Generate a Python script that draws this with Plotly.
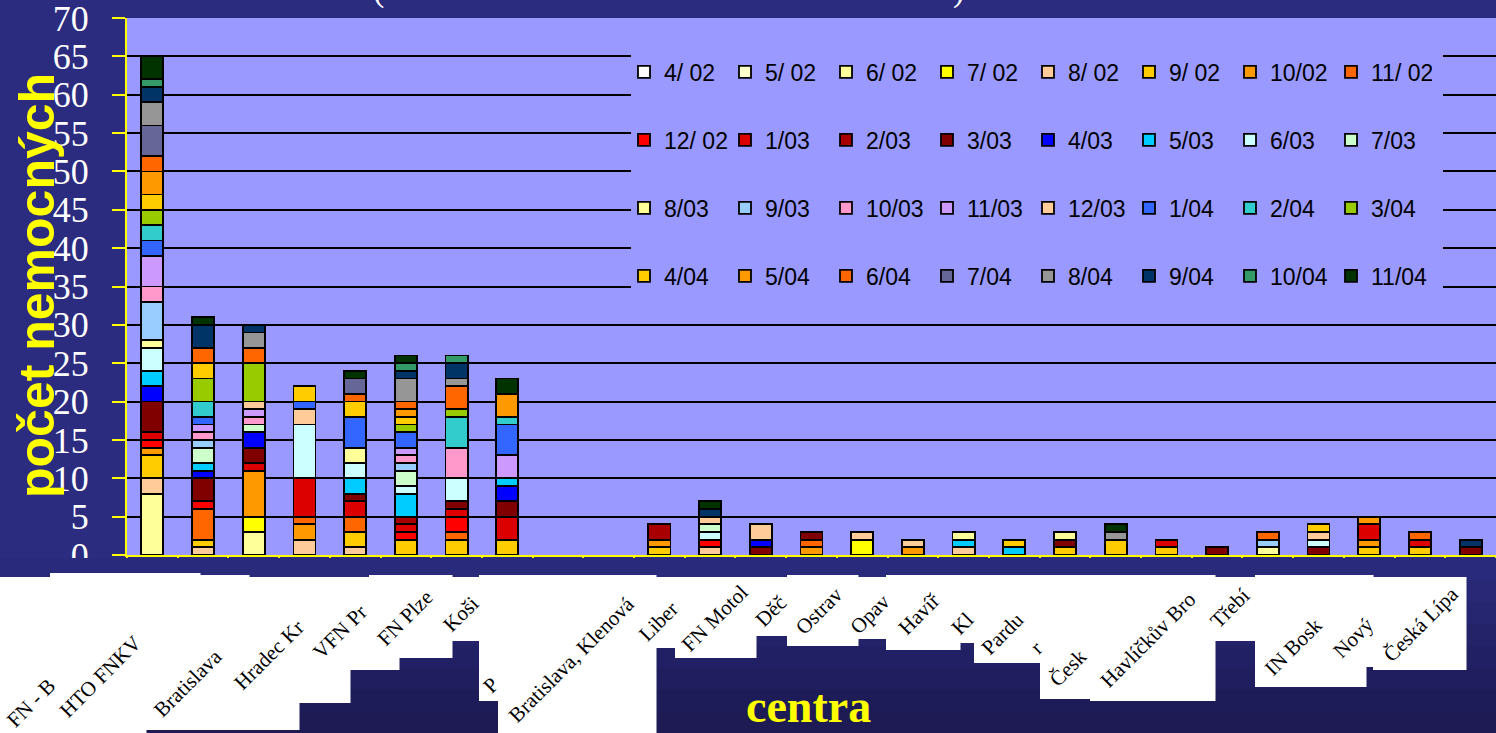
import plotly.graph_objects as go

# ---------------- data ----------------
centra = ["FN - Brno", "HTO FNKV", "Bratislava", "Hradec Králové", "VFN Praha",
          "FN Plzeň", "Košice", "Praha", "Bratislava, Klenová", "Brno",
          "Liberec", "FN Motol", "Děčín", "Ostrava", "Opava", "Havířov",
          "Kladno", "Pardubice", "České Budějovice", "Havlíčkův Brod",
          "Třebíč", "IN Boskovice", "Nový Jičín", "Česká Lípa",
          "centrum 25", "centrum 26", "centrum 27"]

mesice = ["4/ 02", "5/ 02", "6/ 02", "7/ 02", "8/ 02", "9/ 02", "10/02", "11/ 02",
          "12/ 02", "1/03", "2/03", "3/03", "4/03", "5/03", "6/03", "7/03",
          "8/03", "9/03", "10/03", "11/03", "12/03", "1/04", "2/04", "3/04",
          "4/04", "5/04", "6/04", "7/04", "8/04", "9/04", "10/04", "11/04"]

barvy = ["#ffffff", "#ffffcc", "#ffff99", "#ffff00", "#ffcc99", "#ffcc00", "#ff9900", "#ff6600",
         "#ff0000", "#dd0000", "#a80000", "#800000", "#0000ff", "#00ccff", "#ccffff", "#ccffcc",
         "#ffff99", "#99ccff", "#ff99cc", "#cc99ff", "#ffcc99", "#3366ff", "#33cccc", "#99cc00",
         "#ffcc00", "#ff9900", "#ff6600", "#666699", "#969696", "#003366", "#339966", "#003300"]

#          big centres (0-7)     empty  small centres (10-26)
m4_02  = [0, 0, 0, 0, 0, 0, 0, 0,  0, 0,  0, 0, 0, 0, 0, 0, 0, 0, 0, 0, 0, 0, 0, 0, 0, 0, 0]
m5_02  = [0, 0, 0, 0, 0, 0, 0, 0,  0, 0,  0, 0, 0, 0, 0, 0, 0, 0, 0, 0, 0, 0, 0, 0, 0, 0, 0]
m6_02  = [8, 0, 3, 0, 0, 0, 0, 0,  0, 0,  0, 0, 0, 0, 0, 0, 0, 0, 0, 0, 0, 0, 1, 0, 0, 0, 0]
m7_02  = [0, 0, 2, 0, 0, 0, 0, 0,  0, 0,  0, 0, 0, 0, 2, 0, 0, 0, 0, 0, 0, 0, 0, 0, 0, 0, 0]
m8_02  = [2, 1, 0, 2, 1, 0, 0, 0,  0, 0,  0, 1, 0, 0, 1, 0, 1, 0, 0, 0, 0, 0, 0, 0, 0, 0, 0]
m9_02  = [3, 1, 0, 0, 2, 2, 2, 2,  0, 0,  1, 0, 0, 0, 0, 0, 0, 0, 1, 0, 1, 0, 0, 0, 1, 1, 0]
m10_02 = [1, 0, 6, 2, 0, 0, 0, 0,  0, 0,  1, 0, 0, 1, 0, 1, 0, 0, 0, 0, 0, 0, 0, 0, 1, 0, 0]
m11_02 = [0, 4, 0, 1, 2, 0, 1, 0,  0, 0,  0, 0, 0, 1, 0, 0, 0, 0, 0, 0, 0, 0, 0, 0, 0, 0, 0]
m12_02 = [1, 1, 0, 0, 0, 1, 2, 0,  0, 0,  0, 1, 0, 0, 0, 0, 0, 0, 0, 0, 0, 0, 0, 0, 0, 0, 0]
m1_03  = [1, 0, 1, 5, 2, 1, 1, 3,  0, 0,  0, 0, 0, 0, 0, 0, 0, 0, 0, 0, 1, 0, 0, 0, 2, 1, 0]
m2_03  = [0, 0, 0, 0, 0, 1, 0, 0,  0, 0,  2, 0, 0, 0, 0, 0, 0, 0, 0, 0, 0, 0, 0, 0, 0, 0, 0]
m3_03  = [4, 3, 2, 0, 1, 0, 1, 2,  0, 0,  0, 0, 1, 1, 0, 0, 0, 0, 1, 0, 0, 1, 0, 1, 0, 0, 1]
m4_03  = [2, 1, 2, 0, 0, 0, 0, 2,  0, 0,  0, 0, 1, 0, 0, 0, 0, 0, 0, 0, 0, 0, 0, 0, 0, 0, 0]
m5_03  = [2, 1, 0, 0, 2, 3, 0, 1,  0, 0,  0, 0, 0, 0, 0, 0, 1, 1, 0, 0, 0, 0, 0, 0, 0, 0, 0]
m6_03  = [3, 0, 0, 7, 2, 1, 3, 0,  0, 0,  0, 1, 0, 0, 0, 0, 0, 0, 0, 0, 0, 0, 0, 1, 0, 0, 0]
m7_03  = [0, 2, 1, 0, 0, 2, 0, 0,  0, 0,  0, 1, 0, 0, 0, 0, 0, 0, 0, 0, 0, 0, 0, 0, 0, 0, 0]
m8_03  = [1, 0, 0, 0, 2, 0, 0, 0,  0, 0,  0, 0, 0, 0, 0, 0, 1, 0, 1, 0, 0, 0, 0, 0, 0, 0, 0]
m9_03  = [5, 1, 0, 0, 0, 1, 0, 0,  0, 0,  0, 0, 0, 0, 0, 0, 0, 0, 0, 0, 0, 0, 1, 0, 0, 0, 0]
m10_03 = [2, 1, 1, 0, 0, 1, 4, 0,  0, 0,  0, 0, 0, 0, 0, 0, 0, 0, 0, 0, 0, 0, 0, 0, 0, 0, 0]
m11_03 = [4, 1, 1, 0, 0, 1, 0, 3,  0, 0,  0, 0, 0, 0, 0, 0, 0, 0, 0, 0, 0, 0, 0, 0, 0, 0, 0]
m12_03 = [0, 0, 1, 2, 0, 0, 0, 0,  0, 0,  0, 1, 2, 0, 0, 1, 0, 0, 0, 0, 0, 0, 0, 1, 0, 0, 0]
m1_04  = [2, 1, 0, 1, 4, 2, 0, 4,  0, 0,  0, 0, 0, 0, 0, 0, 0, 0, 0, 0, 0, 0, 0, 0, 0, 0, 0]
m2_04  = [2, 2, 0, 0, 0, 0, 4, 1,  0, 0,  0, 0, 0, 0, 0, 0, 0, 0, 0, 0, 0, 0, 0, 0, 0, 0, 0]
m3_04  = [2, 3, 5, 0, 0, 1, 1, 0,  0, 0,  0, 0, 0, 0, 0, 0, 0, 0, 0, 0, 0, 0, 0, 0, 0, 0, 0]
m4_04  = [2, 2, 0, 2, 2, 1, 0, 0,  0, 0,  0, 0, 0, 0, 0, 0, 0, 1, 0, 2, 0, 0, 0, 1, 0, 0, 0]
m5_04  = [3, 0, 0, 0, 0, 1, 0, 3,  0, 0,  0, 0, 0, 0, 0, 0, 0, 0, 0, 0, 0, 0, 0, 0, 1, 0, 0]
m6_04  = [2, 2, 2, 0, 1, 1, 3, 0,  0, 0,  0, 0, 0, 0, 0, 0, 0, 0, 0, 0, 0, 0, 1, 0, 0, 1, 0]
m7_04  = [4, 0, 0, 0, 2, 0, 0, 0,  0, 0,  0, 0, 0, 0, 0, 0, 0, 0, 0, 0, 0, 0, 0, 0, 0, 0, 0]
m8_04  = [3, 0, 2, 0, 0, 3, 1, 0,  0, 0,  0, 0, 0, 0, 0, 0, 0, 0, 0, 1, 0, 0, 0, 0, 0, 0, 0]
m9_04  = [2, 3, 1, 0, 0, 1, 2, 0,  0, 0,  0, 1, 0, 0, 0, 0, 0, 0, 0, 0, 0, 0, 0, 0, 0, 0, 1]
m10_04 = [1, 0, 0, 0, 0, 1, 1, 0,  0, 0,  0, 0, 0, 0, 0, 0, 0, 0, 0, 0, 0, 0, 0, 0, 0, 0, 0]
m11_04 = [3, 1, 0, 0, 1, 1, 0, 2,  0, 0,  0, 1, 0, 0, 0, 0, 0, 0, 0, 1, 0, 0, 0, 0, 0, 0, 0]

serie = [m4_02, m5_02, m6_02, m7_02, m8_02, m9_02, m10_02, m11_02,
         m12_02, m1_03, m2_03, m3_03, m4_03, m5_03, m6_03, m7_03,
         m8_03, m9_03, m10_03, m11_03, m12_03, m1_04, m2_04, m3_04,
         m4_04, m5_04, m6_04, m7_04, m8_04, m9_04, m10_04, m11_04]

# visible (clipped) label fragments as they appear in the slide
popisky = ["FN - B", "HTO FNKV", "Bratislava", "Hradec Kr", "VFN Pr", "FN Plze",
           "Koši", "P", "Bratislava, Klenová", "Liber", "FN Motol", "Děč",
           "Ostrav", "Opav", "Havíř", "Kl", "Pardu", "r", "Česk",
           "Havlíčkův Bro", "Třebí", "IN Bosk", "Nový", "Česká Lípa"]

# ---------------- layout helpers ----------------
W, H = 1496, 733
L, R, T, B = 127, 0, 18, 178
PW, PH = W - L - R, H - T - B
Y0 = H - B


def px(x):
    return (x - L) / PW


def py(y):
    return (Y0 - y) / PH


fig = go.Figure()
for i, (name, vals, col) in enumerate(zip(mesice, serie, barvy)):
    k = i // 8
    fig.add_trace(go.Bar(
        x=centra, y=[v if v else None for v in vals], name=name,
        marker=dict(color=col, line=dict(color="black", width=1.8)),
        legend="legend" if k == 0 else f"legend{k + 1}",
    ))

leg_rows = [72, 140, 208, 276]
leg_common = dict(orientation="h", xanchor="left", yanchor="middle",
                  bgcolor="rgba(0,0,0,0)", borderwidth=0,
                  font=dict(family="Liberation Sans, Arial", size=23, color="black"),
                  entrywidth=56, entrywidthmode="pixels", traceorder="normal")
legends = {}
for k, ry in enumerate(leg_rows):
    key = "legend" if k == 0 else f"legend{k + 1}"
    legends[key] = dict(leg_common, x=px(624), y=py(ry))

shapes = []
# gradient-ish bottom of slide
bands = ["#2a2a7c", "#282876", "#262570", "#24236a", "#222064", "#201e5e", "#1e1c58", "#1d1a54"]
bh = (H - 558) / len(bands)
for j, c in enumerate(bands):
    shapes.append(dict(type="rect", xref="paper", yref="paper", layer="above",
                       x0=px(0), x1=px(W), y0=py(558 + j * bh), y1=py(558 + (j + 1) * bh + 1),
                       fillcolor=c, line=dict(width=0)))
# white label boxes
boxes = [(0, 50, 577, 733), (50, 146, 573, 733), (146, 200, 573, 730), (200, 249, 575, 730),
         (249, 299, 577, 730), (299, 350, 577, 703), (350, 369, 577, 670), (369, 399, 575, 670),
         (399, 452, 575, 658), (452, 479, 577, 641), (479, 498, 575, 701), (498, 656, 575, 733),
         (656, 675, 577, 648), (675, 756, 577, 658), (756, 787, 577, 636), (787, 858, 575, 646),
         (858, 886, 577, 639), (886, 960, 575, 650), (960, 974, 575, 643), (974, 1040, 575, 663),
         (1040, 1090, 575, 699), (1090, 1215, 575, 701), (1215, 1255, 577, 641),
         (1255, 1366, 575, 687), (1366, 1373, 575, 667), (1373, 1466, 577, 670)]
for (x0, x1, y0, y1) in boxes:
    shapes.append(dict(type="rect", xref="paper", yref="paper", layer="above",
                       x0=px(x0), x1=px(x1 + 0.5), y0=py(y1), y1=py(y0),
                       fillcolor="white", line=dict(width=0)))
# legend area hides the grid lines
shapes.append(dict(type="rect", xref="paper", yref="paper", layer="above",
                   x0=px(631), x1=px(1443), y0=py(300), y1=py(48),
                   fillcolor="#9999ff", line=dict(width=0)))

pos = [(31, 703), (100, 677), (188, 683), (269, 655), (340, 632), (405, 618),
       (461, 614), (491, 685), (571, 660), (658, 622), (715, 618), (771, 611),
       (819, 611), (870, 614), (919, 614), (962, 624), (1002, 634), (1036, 648),
       (1068, 668), (1148, 640), (1230, 608), (1293, 647), (1353, 638), (1421, 624)]
annotations = []
for txt, (ax, ay) in zip(popisky, pos):
    annotations.append(dict(text=txt, xref="paper", yref="paper", x=px(ax), y=py(ay),
                            xanchor="center", yanchor="middle", textangle=-45, showarrow=False,
                            font=dict(family="Liberation Serif, Times New Roman", size=21, color="black")))
annotations.append(dict(text="počet nemocných", xref="paper", yref="paper", x=px(37), y=py(286),
                        xanchor="center", yanchor="middle", textangle=-90, showarrow=False,
                        font=dict(family="Liberation Sans, Arial", size=50, color="#ffff00", weight="bold")))
annotations.append(dict(text="centra", xref="paper", yref="paper", x=px(808), y=py(706),
                        xanchor="center", yanchor="middle", showarrow=False,
                        font=dict(family="Liberation Serif, Times New Roman", size=46, color="#ffff00",
                                  weight="bold")))
for txt, ax in [("(", 378), (")", 958)]:
    annotations.append(dict(text=txt, xref="paper", yref="paper", x=px(ax), y=py(-10),
                            xanchor="center", yanchor="middle", showarrow=False,
                            font=dict(family="Liberation Serif", size=34, color="white")))

fig.update_layout(
    width=W, height=H, barmode="stack", bargap=0.565,
    margin=dict(l=L, r=R, t=T, b=B, pad=0),
    paper_bgcolor="#2b2b80", plot_bgcolor="#9999ff",
    shapes=shapes, annotations=annotations,
    **legends,
)
fig.update_xaxes(type="category", range=[-0.5, 26.5], showticklabels=False,
                 ticks="outside", tickson="boundaries", ticklen=8, tickwidth=2, tickcolor="#ffff00",
                 showline=True, linecolor="#ffff00", linewidth=2, showgrid=False, zeroline=False)
fig.update_yaxes(range=[0, 70], dtick=5, ticks="outside", ticklen=13, tickwidth=2,
                 tickcolor="#ffff00", showline=True, linecolor="#ffff00", linewidth=2,
                 gridcolor="black", gridwidth=1.5, zeroline=False, ticklabelstandoff=16,
                 ticklabeloverflow="allow",
                 tickfont=dict(family="Liberation Serif", size=36, color="white"))

fig.write_html("out.html", config={"displayModeBar": False},
               post_script="document.body.style.margin='0px';document.body.style.overflow='hidden';")
